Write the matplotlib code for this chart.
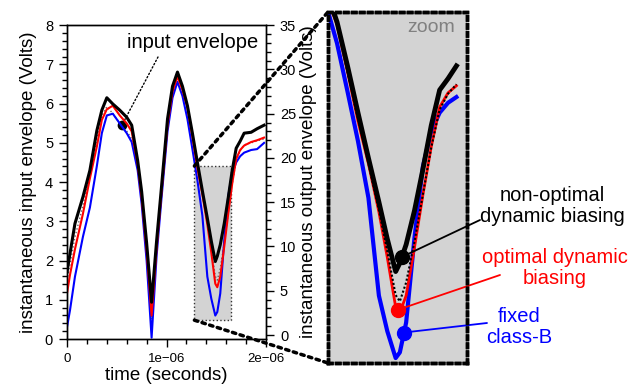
import numpy as np
import matplotlib.pyplot as plt
from matplotlib.patches import Rectangle, ConnectionPatch
from matplotlib.ticker import MultipleLocator, FixedLocator

plt.rcParams['font.family'] = ['Liberation Sans', 'DejaVu Sans']

# sample times in microseconds
t_us = [0.00, 0.03, 0.08, 0.16, 0.23, 0.30, 0.35, 0.40, 0.46, 0.53,
        0.60, 0.65, 0.71, 0.75, 0.80, 0.85, 0.90, 0.95, 1.01, 1.06,
        1.11, 1.16, 1.21, 1.26, 1.31, 1.36, 1.41, 1.45, 1.49, 1.51,
        1.54, 1.58, 1.62, 1.66, 1.70, 1.74, 1.78, 1.85, 1.91, 1.98]

# input envelope (left axis, Volts)
input_env = [1.50, 1.90, 2.60, 3.40, 4.20, 5.10, 5.70, 5.92, 5.75, 5.50,
             5.30, 5.10, 4.40, 3.55, 2.20, 0.50, 2.25, 3.70, 5.45, 6.30,
             6.70, 6.35, 5.90, 5.15, 4.40, 3.70, 2.95, 2.30, 1.60, 1.50,
             1.80, 2.45, 3.20, 3.95, 4.55, 4.80, 4.95, 5.00, 5.05, 5.10]

# output envelopes (right axis, Volts)
out_nonopt = [7.1, 9.2, 12.6, 15.6, 18.6, 23.1, 25.4, 26.8, 26.1, 25.4,
              24.6, 23.7, 19.7, 16.2, 10.4, 3.7, 10.6, 16.8, 24.4, 28.1,
              29.7, 28.1, 25.9, 22.8, 19.5, 16.3, 13.2, 10.6, 8.3, 8.9,
              10.2, 12.6, 15.5, 18.6, 21.1, 21.9, 22.8, 22.9, 23.3, 23.7]
out_opt = [4.7, 6.8, 9.7, 13.7, 17.7, 21.3, 24.3, 25.5, 25.9, 24.8,
           23.9, 23.0, 19.3, 15.5, 9.5, 2.2, 9.7, 16.2, 23.7, 27.5,
           29.2, 27.7, 25.7, 22.4, 18.9, 15.9, 12.5, 9.3, 5.8, 5.4,
           6.6, 10.0, 13.7, 17.1, 19.9, 20.9, 21.4, 21.8, 22.0, 22.3]
out_fixed = [0.9, 2.8, 6.6, 11.1, 14.4, 19.1, 22.8, 24.8, 25.0, 23.9,
             22.8, 21.8, 18.6, 14.8, 8.4, -0.3, 8.9, 15.5, 23.0, 26.8,
             28.6, 27.0, 24.4, 21.0, 17.5, 13.5, 6.6, 4.1, 2.2, 2.6,
             4.7, 10.7, 15.7, 18.2, 19.5, 20.2, 20.6, 20.9, 21.0, 21.7]

t = np.array(t_us) * 1e-6
BLACK, RED, BLUE = '#000000', '#ff0000', '#0000ff'
GRAY = '#d3d3d3'
DOTS = (0, (1, 1.3))

fig = plt.figure(figsize=(6.4, 3.87), dpi=100)
ax = fig.add_axes([0.1047, 0.124, 0.311, 0.811])
ax2 = ax.twinx()

# shaded region that is blown up on the right
ax.add_patch(Rectangle((1.28e-6, 0.48), 0.37e-6, 3.93, facecolor=GRAY,
                       edgecolor='#333333', lw=1, ls=':', zorder=0))
ax.plot(t, input_env, color='#666666', lw=1, ls=':')
ax2.plot(t, out_fixed, color=BLUE, lw=1.5)
ax2.plot(t, out_opt, color=RED, lw=1.5)
ax2.plot(t, out_nonopt, color=BLACK, lw=2.2)

t_in = 0.55e-6
ax.plot(t_in, np.interp(t_in, t, input_env), 'o', color='k', ms=6, zorder=5)
ax.annotate('', xy=(t_in, np.interp(t_in, t, input_env)), xycoords='data',
            xytext=(158, 387 - 57), textcoords='figure pixels',
            arrowprops=dict(arrowstyle='-', color='k', lw=1, ls=':',
                            shrinkA=0, shrinkB=0))
fig.text(193 / 640, 1 - 43 / 387, 'input envelope', ha='center', va='center',
         fontsize=14.5)

ax.set_xlim(0, 2e-6)
ax.set_ylim(0, 8)
ax2.set_ylim(-0.45, 35)
ax.xaxis.set_major_locator(FixedLocator([0, 1e-6, 2e-6]))
ax.set_xticklabels(['0', '1e\u221206', '2e\u221206'])
ax.xaxis.set_minor_locator(MultipleLocator(0.2e-6))
ax.yaxis.set_major_locator(MultipleLocator(1))
ax.yaxis.set_minor_locator(MultipleLocator(0.2))
ax2.yaxis.set_major_locator(MultipleLocator(5))
ax2.yaxis.set_minor_locator(MultipleLocator(1))
for a in (ax, ax2):
    a.tick_params(which='major', direction='out', length=6, width=1, pad=4)
    a.tick_params(which='minor', direction='out', length=3.5, width=1)
    for s in a.spines.values():
        s.set_linewidth(1.0)
ax.tick_params(axis='y', labelsize=10.5)
ax.tick_params(axis='x', labelsize=9.5)
ax2.tick_params(axis='y', labelsize=10.5)

ax.set_xlabel('time (seconds)', fontsize=13.5)
ax.xaxis.set_label_coords(0.5, -0.09)
ax.set_ylabel('instantaneous input envelope (Volts)', fontsize=13.5)
ax.yaxis.set_label_coords(-0.15, 0.5)
ax2.set_ylabel('instantaneous output envelope (Volts)', fontsize=13.5)
ax2.yaxis.set_label_coords(1.17, 0.5)

# zoomed view of the second dip
ins = fig.add_axes([0.5125, 0.062, 0.217, 0.907])
ins.set_facecolor(GRAY)
ins2 = ins.twinx()
sel = (t >= 1.15e-6) & (t <= 1.785e-6)
ins.plot(t[sel], np.array(out_fixed)[sel], color=BLUE, lw=3)
ins.plot(t[sel], np.array(out_opt)[sel], color=RED, lw=2)
ins.plot(t[sel], np.array(out_nonopt)[sel], color=BLACK, lw=3.5)
ins2.plot(t[sel], np.array(input_env)[sel], color='k', lw=1.5, ls=(0, (1, 1)))
ins.set_xlim(1.167e-6, 1.83e-6)
ins.set_ylim(1.85, 26.6)
ins2.set_ylim(0.52, 6.1)
for a in (ins, ins2):
    a.set_xticks([])
    a.set_yticks([])
    for s in a.spines.values():
        s.set_linewidth(2.5)
        s.set_linestyle(DOTS)
ins.text(0.74, 0.957, 'zoom', transform=ins.transAxes, ha='center',
         va='center', color='#808080', fontsize=14)

markers = [
    (1.52e-6, out_nonopt, BLACK, (480, 220), 'non-optimal\ndynamic biasing', (552, 206)),
    (1.50e-6, out_opt, RED, (500, 275), 'optimal dynamic\nbiasing', (555, 268)),
    (1.53e-6, out_fixed, BLUE, (487, 323), 'fixed\nclass-B', (519, 327)),
]
for tm, series, col, end, label, pos in markers:
    val = np.interp(tm, t, series)
    ins.plot(tm, val, 'o', color=col, ms=10, zorder=6)
    ins.annotate('', xy=(tm, val), xycoords='data',
                 xytext=(end[0], 387 - end[1]), textcoords='figure pixels',
                 arrowprops=dict(arrowstyle='-', color=col, lw=1.3,
                                 shrinkA=0, shrinkB=0),
                 annotation_clip=False)
    fig.text(pos[0] / 640, 1 - pos[1] / 387, label, ha='center', va='center',
             color=col, fontsize=14.5, linespacing=1.15)

# dotted connectors from the shaded box to the zoom panel
for corner_y, ins_y in ((4.41, 1), (0.48, 0)):
    con = ConnectionPatch(xyA=(1.28e-6, corner_y), coordsA=ax.transData,
                          xyB=(0, ins_y), coordsB=ins.transAxes,
                          color='k', lw=2.5, ls=DOTS)
    fig.add_artist(con)

fig.savefig('out.png', dpi=100)
